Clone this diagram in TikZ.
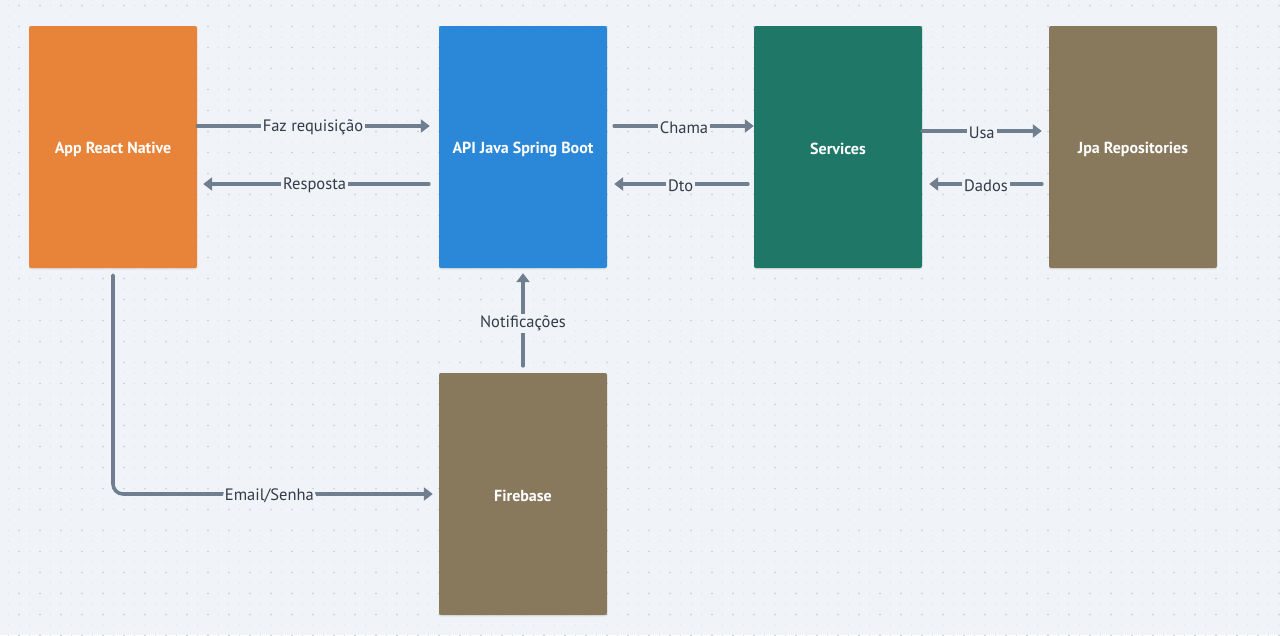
\documentclass[tikz,border=0pt]{standalone}
\usepackage{fontspec}
\setmainfont{PT Sans}
\usetikzlibrary{arrows.meta,shadows}
\definecolor{bg}{HTML}{F0F3F7}
\definecolor{dotminor}{HTML}{DCE1E7}
\definecolor{dotmajor}{HTML}{C5CCD5}
\definecolor{orangebox}{HTML}{E8833A}
\definecolor{bluebox}{HTML}{2B88D8}
\definecolor{greenbox}{HTML}{1F7867}
\definecolor{brownbox}{HTML}{88785C}
\definecolor{edge}{HTML}{6F7F8F}
\definecolor{lbltext}{HTML}{323B47}
\begin{document}
\begin{tikzpicture}[x=1pt,y=-1pt,
  box/.style={rectangle, rounded corners=2pt, minimum width=168pt, minimum height=242pt,
    inner sep=0pt,
    drop shadow={opacity=0.12,shadow xshift=0pt,shadow yshift=-1.5pt}},
  boxtxt/.style={text=white, font=\fontsize{16}{19}\selectfont\bfseries, inner sep=0pt, yshift=-2pt},
  conn/.style={draw=edge, line width=3.6pt, line cap=round, -{Triangle[length=9pt,width=13pt]}},
  lbl/.style={fill=bg, text=lbltext, font=\fontsize{16.5}{19}\selectfont, inner sep=2pt, yshift=-1.5pt}
]
\useasboundingbox (0,0) rectangle (1280,635);
\fill[bg] (0,0) rectangle (1280,635);
% dot grid
\foreach \r in {0,...,60}{
  \draw[dotminor, line width=1.4pt, line cap=round, dash pattern=on 0pt off 10.5pt]
    (8.5,{5.5+10.5*\r}) -- (1280,{5.5+10.5*\r});
}
\foreach \r in {0,...,30}{
  \draw[dotmajor, line width=1.6pt, line cap=round, dash pattern=on 0pt off 21pt]
    (19,{5.5+21*\r}) -- (1280,{5.5+21*\r});
}
% boxes
\node[box, fill=orangebox, label={[boxtxt]center:App React Native}] (app) at (113,147) {};
\node[box, fill=bluebox, label={[boxtxt]center:API Java Spring Boot}] (api) at (523,147) {};
\node[box, fill=greenbox, label={[boxtxt]center:Services}] (svc) at (838,147) {};
\node[box, fill=brownbox, label={[boxtxt]center:Jpa Repositories}] (jpa) at (1133,147) {};
\node[box, fill=brownbox, label={[boxtxt]center:Firebase}] (fb) at (523,494) {};
% connectors
\draw[conn, shorten >=9pt] (app.east |- 0,126) -- node[lbl, pos=0.479] {Faz requisição} (api.west |- 0,126);
\draw[conn, shorten <=10pt, shorten >=6pt] (api.west |- 0,184) -- node[lbl, pos=0.514] {Resposta} (app.east |- 0,184);
\draw[conn, shorten <=7pt] (api.east |- 0,126) -- node[lbl, pos=0.524] {Chama} (svc.west |- 0,126);
\draw[conn, shorten <=6pt, shorten >=7pt] (svc.west |- 0,184) -- node[lbl, pos=0.499] {Dto} (api.east |- 0,184);
\draw[conn, shorten >=7pt] (svc.east |- 0,131) -- node[lbl, pos=0.47] {Usa} (jpa.west |- 0,131);
\draw[conn, shorten <=7pt, shorten >=7pt] (jpa.west |- 0,184) -- node[lbl, pos=0.496] {Dados} (svc.east |- 0,184);
\draw[conn, shorten <=7pt, shorten >=5pt] (fb.north) -- node[lbl, pos=0.486] {Notificações} (api.south);
\draw[conn, rounded corners=10pt, shorten <=7pt, shorten >=6pt] (app.south) |- node[lbl, pos=0.74] {Email/Senha} (fb.west);
\end{tikzpicture}
\end{document}
